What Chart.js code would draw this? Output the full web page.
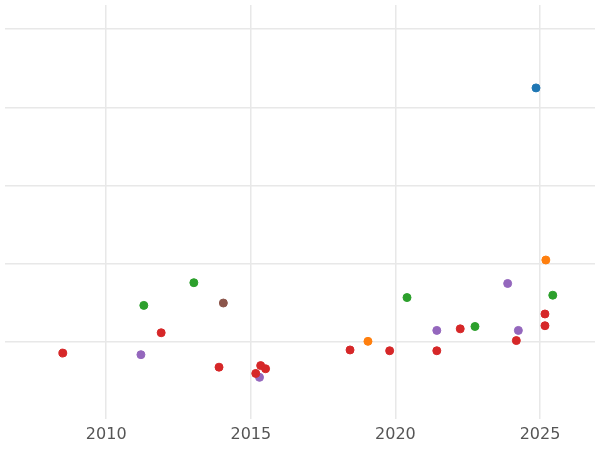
<!DOCTYPE html>
<html>
<head>
<script src="https://cdn.jsdelivr.net/npm/chart.js@4"></script>
<style>html,body{margin:0;padding:0;background:#fff}#wrap{width:600px;height:450px}</style>
</head>
<body>
<div id="wrap"><canvas id="chart"></canvas></div>
<script>
// Points per group: [year, value]
const blueX = [2024.86], blueY = [3.25];
const orangeX = [2025.2, 2019.05], orangeY = [1.05, 0.01];
const greenX = [2011.3, 2013.03, 2020.4, 2022.75, 2025.44];
const greenY = [0.47, 0.76, 0.57, 0.2, 0.6];
const brownX = [2014.05], brownY = [0.5];
const purpleX = [2011.2, 2015.3, 2021.43, 2023.88, 2024.25];
const purpleY = [-0.16, -0.45, 0.15, 0.75, 0.15];
const redX = [2008.5, 2011.9, 2013.9, 2015.17, 2015.34, 2015.51, 2018.43, 2019.8, 2021.43, 2022.24, 2024.18, 2025.17, 2025.17];
const redY = [-0.14, 0.12, -0.32, -0.4, -0.3, -0.34, -0.1, -0.11, -0.11, 0.17, 0.02, 0.36, 0.21];
const xTicks = [2010, 2015, 2020, 2025];

function pts(xs, ys) { return xs.map((x, i) => ({ x: x, y: ys[i] })); }
function ds(xs, ys, color) {
    return { data: pts(xs, ys), backgroundColor: color, borderColor: color, pointRadius: 4, pointHoverRadius: 4 };
}

new Chart(document.getElementById('chart'), {
    type: 'scatter',
    data: {
        datasets: [
            ds(redX, redY, '#d62728'),
            ds(purpleX, purpleY, '#9467bd'),
            ds(greenX, greenY, '#2ca02c'),
            ds(brownX, brownY, '#8c564b'),
            ds(orangeX, orangeY, '#ff7f0e'),
            ds(blueX, blueY, '#1f77b4')
        ]
    },
    options: {
        responsive: true,
        maintainAspectRatio: false,
        animation: false,
        layout: { padding: { left: -5, right: -5, top: -5, bottom: 0 } },
        plugins: { legend: { display: false }, tooltip: { enabled: false } },
        scales: {
            x: {
                min: 2006.5, max: 2026.9,
                border: { display: false },
                grid: { color: '#e8e8e8', lineWidth: 1.5, drawTicks: false },
                afterBuildTicks: axis => { axis.ticks = xTicks.map(v => ({ value: v })); },
                ticks: { color: '#555', font: { size: 16, family: 'DejaVu Sans' }, padding: 6, maxRotation: 0, callback: v => String(v) }
            },
            y: {
                min: -0.98, max: 4.31,
                border: { display: false },
                grid: { color: '#e8e8e8', lineWidth: 1.5, drawTicks: false },
                afterBuildTicks: axis => { axis.ticks = [0, 1, 2, 3, 4].map(v => ({ value: v })); },
                afterFit: axis => { axis.width = 0; },
                ticks: { display: false }
            }
        }
    }
});
</script>
</body>
</html>
